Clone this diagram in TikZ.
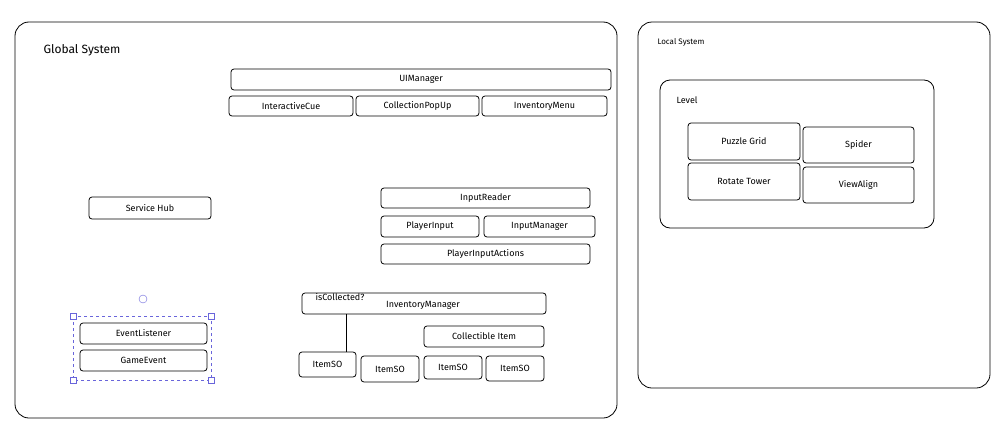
\documentclass[tikz,border=0pt]{standalone}
\usepackage{fontspec}
\setmainfont{Fira Sans}
\usetikzlibrary{positioning}
\definecolor{selviolet}{HTML}{6965DB}

\begin{document}
\begin{tikzpicture}
        [x=1pt,y=-1pt,
        frame/.style={draw,thick,rounded corners=14pt},
        comp/.style={draw,thick,rounded corners=3pt,font=\small},
        sel/.style={draw=selviolet,fill=white,thin}]

        \useasboundingbox (0,0) rectangle (1004,431);

        % global system
        \draw[frame] (15,22) rectangle (617,418);
        \node[font=\large,anchor=west] (globaltitle) at (40,50) {Global System};

        \draw[comp] (231,69) rectangle (611,90) node[midway] (uimanager) {UIManager};
        \draw[comp] (229,96) rectangle (353,116) node[midway] (cue) {InteractiveCue};
        \draw[comp] (356,96) rectangle (479,116) node[midway] (popup) {CollectionPopUp};
        \draw[comp] (482,96) rectangle (607,116) node[midway] (menu) {InventoryMenu};

        \draw[comp] (89,197) rectangle (211,219) node[midway] (hub) {Service Hub};

        \draw[comp] (381,188) rectangle (590,208) node[midway] (reader) {InputReader};
        \draw[comp] (381,216) rectangle (479,237) node[midway] (player) {PlayerInput};
        \draw[comp] (484,216) rectangle (595,237) node[midway] (inputmgr) {InputManager};
        \draw[comp] (381,244) rectangle (590,264) node[midway] (actions) {PlayerInputActions};

        % selected pair
        \draw[selviolet] (143,299) circle[radius=4];
        \draw[selviolet,dashed] (73,316) rectangle (211,380);
        \foreach \px/\py in {73/316,211/316,73/380,211/380}
            \draw[sel] (\px-3,\py-3) rectangle +(6,6);
        \draw[comp] (80,323) rectangle (207,344) node[midway] (listener) {EventListener};
        \draw[comp] (80,350) rectangle (207,371) node[midway] (gameevent) {GameEvent};

        % inventory
        \draw[comp] (302,293) rectangle (546,314);
        \node[font=\small] (invmgr) at (423,305) {InventoryManager};
        \node[font=\small] (collected) at (340,297) {isCollected?};
        \coordinate (invfoot) at (346,314);
        \coordinate (itemtop) at (346,352);
        \draw[thick] (invfoot) -- (itemtop);
        \draw[comp] (424,326) rectangle (544,347) node[midway] (collectible) {Collectible Item};
        \draw[comp] (299,352) rectangle (356,377) node[midway] (itema) {ItemSO};
        \draw[comp] (361,356) rectangle (419,382) node[midway] (itemb) {ItemSO};
        \draw[comp] (424,356) rectangle (482,379) node[midway] (itemc) {ItemSO};
        \draw[comp] (486,356) rectangle (544,381) node[midway] (itemd) {ItemSO};

        % local system
        \draw[frame] (638,22) rectangle (990,388);
        \node[font=\footnotesize,anchor=west] (localtitle) at (654,42) {Local System};
        \draw[frame,rounded corners=10pt] (660,80) rectangle (934,228);
        \node[font=\small,anchor=west] (level) at (673,100) {Level};
        \draw[comp] (688,123) rectangle (800,160) node[midway] (grid) {Puzzle Grid};
        \draw[comp] (803,127) rectangle (914,163) node[midway] (spider) {Spider};
        \draw[comp] (688,163) rectangle (800,200) node[midway] (tower) {Rotate Tower};
        \draw[comp] (803,167) rectangle (914,203) node[midway] (align) {ViewAlign};

    \end{tikzpicture}
\end{document}
